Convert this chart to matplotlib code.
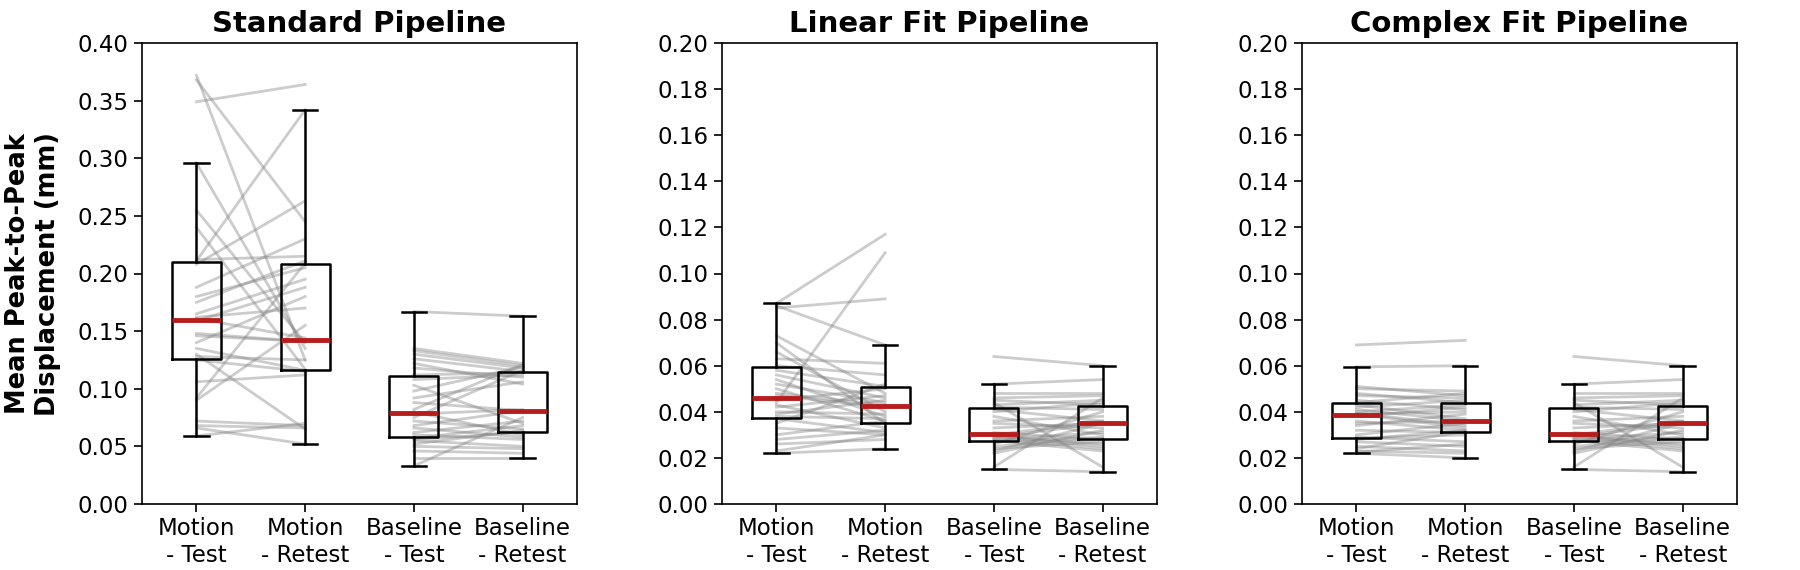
import numpy as np
import matplotlib
matplotlib.use("Agg")
import matplotlib.pyplot as plt

# per-subject values (mm)
std_motion_test = [0.349, 0.372, 0.368, 0.296, 0.255, 0.240, 0.211, 0.212, 0.208, 0.188,
                   0.180, 0.175, 0.165, 0.162, 0.161, 0.159, 0.148, 0.146, 0.140, 0.128,
                   0.125, 0.130, 0.106, 0.092, 0.090, 0.072, 0.068, 0.066, 0.059, 0.135]
std_motion_retest = [0.364, 0.125, 0.245, 0.135, 0.140, 0.117, 0.342, 0.215, 0.263, 0.230,
                     0.205, 0.211, 0.195, 0.170, 0.144, 0.188, 0.141, 0.141, 0.180, 0.125,
                     0.115, 0.065, 0.112, 0.209, 0.155, 0.068, 0.066, 0.052, 0.070, 0.116]
std_base_test = [0.167, 0.135, 0.133, 0.130, 0.126, 0.122, 0.118, 0.112, 0.108, 0.103,
                 0.098, 0.092, 0.088, 0.082, 0.080, 0.078, 0.075, 0.072, 0.068, 0.066,
                 0.062, 0.060, 0.057, 0.056, 0.055, 0.052, 0.050, 0.046, 0.040, 0.033]
std_base_retest = [0.163, 0.122, 0.120, 0.118, 0.115, 0.104, 0.110, 0.114, 0.112, 0.070,
                   0.119, 0.106, 0.081, 0.121, 0.060, 0.082, 0.116, 0.065, 0.081, 0.058,
                   0.072, 0.056, 0.068, 0.062, 0.050, 0.064, 0.048, 0.044, 0.040, 0.075]

lin_motion_test = [0.087, 0.085, 0.086, 0.044, 0.073, 0.070, 0.066, 0.063, 0.060, 0.058,
                   0.056, 0.054, 0.052, 0.050, 0.048, 0.047, 0.045, 0.043, 0.042, 0.040,
                   0.039, 0.038, 0.037, 0.035, 0.033, 0.030, 0.028, 0.026, 0.023, 0.022]
lin_motion_retest = [0.117, 0.089, 0.069, 0.109, 0.048, 0.035, 0.040, 0.061, 0.056, 0.051,
                     0.046, 0.038, 0.044, 0.036, 0.043, 0.042, 0.050, 0.033, 0.047, 0.039,
                     0.045, 0.037, 0.031, 0.052, 0.030, 0.036, 0.032, 0.028, 0.030, 0.024]

cpx_motion_test = [0.069, 0.0595, 0.051, 0.050, 0.048, 0.047, 0.045, 0.044, 0.043, 0.042,
                   0.041, 0.040, 0.0395, 0.039, 0.039, 0.038, 0.036, 0.035, 0.034, 0.032,
                   0.030, 0.029, 0.028, 0.027, 0.0285, 0.025, 0.024, 0.023, 0.0225, 0.022]
cpx_motion_retest = [0.071, 0.060, 0.047, 0.049, 0.044, 0.046, 0.041, 0.048, 0.037, 0.045,
                     0.036, 0.043, 0.034, 0.040, 0.033, 0.042, 0.032, 0.036, 0.039, 0.031,
                     0.035, 0.027, 0.032, 0.025, 0.030, 0.023, 0.0315, 0.022, 0.026, 0.020]

# baseline runs are the same for the linear and complex fits
fit_base_test = [0.064, 0.052, 0.048, 0.046, 0.045, 0.044, 0.043, 0.042, 0.041, 0.040,
                 0.038, 0.036, 0.035, 0.033, 0.031, 0.030, 0.0295, 0.029, 0.028, 0.0275,
                 0.027, 0.026, 0.025, 0.024, 0.023, 0.022, 0.0298, 0.016, 0.015, 0.0285]
fit_base_retest = [0.060, 0.054, 0.048, 0.047, 0.043, 0.016, 0.045, 0.041, 0.036, 0.044,
                   0.030, 0.038, 0.033, 0.035, 0.028, 0.036, 0.025, 0.035, 0.031, 0.023,
                   0.029, 0.040, 0.0285, 0.027, 0.035, 0.032, 0.026, 0.046, 0.014, 0.024]

titles = ["Standard Pipeline", "Linear Fit Pipeline", "Complex Fit Pipeline"]
xlabels = ["Motion\n- Test", "Motion\n- Retest", "Baseline\n- Test", "Baseline\n- Retest"]

panels = [
    [std_motion_test, std_motion_retest, std_base_test, std_base_retest],
    [lin_motion_test, lin_motion_retest, fit_base_test, fit_base_retest],
    [cpx_motion_test, cpx_motion_retest, fit_base_test, fit_base_retest],
]
ylims = [(0, 0.4), (0, 0.2), (0, 0.2)]
ysteps = [0.05, 0.02, 0.02]

fig = plt.figure(figsize=(18, 5.7), dpi=100)

for k in range(3):
    ax = fig.add_axes([(142 + 580 * k) / 1800, 66 / 570, 435 / 1800, 461 / 570])
    groups = panels[k]
    # paired lines test -> retest
    for a, b in [(0, 1), (2, 3)]:
        for v1, v2 in zip(groups[a], groups[b]):
            ax.plot([a + 1, b + 1], [v1, v2], color="gray", alpha=0.4, lw=2, zorder=1)
    ax.boxplot(groups, positions=[1, 2, 3, 4], widths=0.45, showfliers=False,
               boxprops=dict(color="black", lw=1.8),
               whiskerprops=dict(color="black", lw=1.8),
               capprops=dict(color="black", lw=1.8),
               medianprops=dict(color="#b81d1d", lw=3.5), zorder=3)
    ax.set_xlim(0.5, 4.5)
    ax.set_ylim(*ylims[k])
    ax.set_yticks(np.arange(0, ylims[k][1] + 1e-9, ysteps[k]))
    ax.yaxis.set_major_formatter(matplotlib.ticker.FormatStrFormatter("%.2f"))
    ax.set_xticks([1, 2, 3, 4])
    ax.set_xticklabels(xlabels)
    ax.tick_params(labelsize=16.5, length=6, width=1.2)
    for s in ax.spines.values():
        s.set_linewidth(1.2)
    ax.set_title(titles[k], fontsize=21, fontweight="bold", pad=8)
    if k == 0:
        ax.set_ylabel("Mean Peak-to-Peak\nDisplacement (mm)", fontsize=18.5,
                      fontweight="bold", labelpad=12)

plt.savefig("out.png", dpi=100)
